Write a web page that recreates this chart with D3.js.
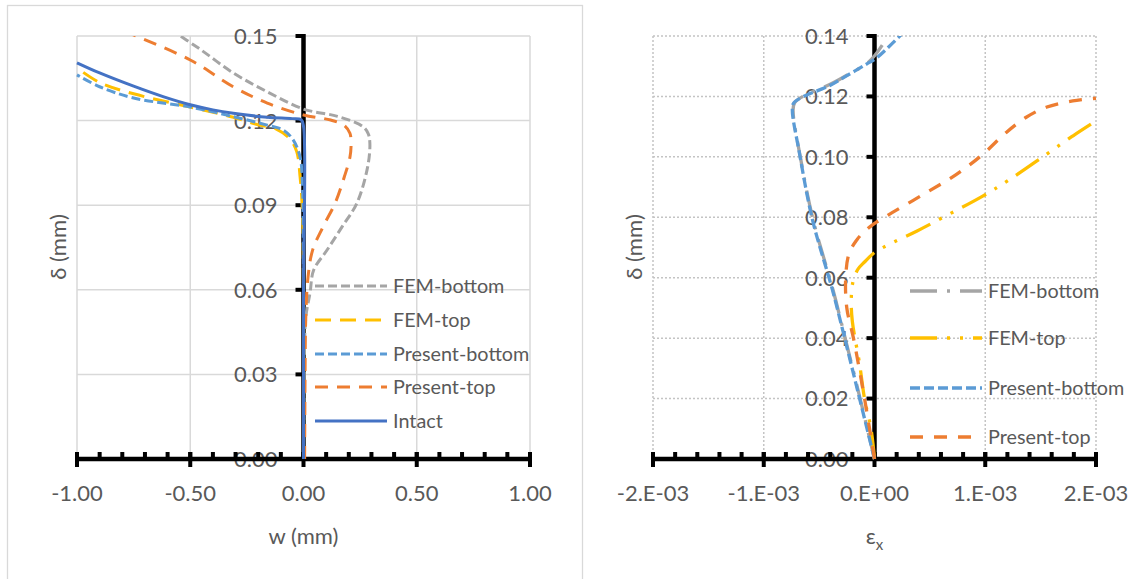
<!DOCTYPE html>
<html>
<head>
<meta charset="utf-8">
<script src="https://cdn.jsdelivr.net/npm/d3@7"></script>
<style>
  body { margin: 0; background: #fff; }
  text { font-family: Lato, "Open Sans", sans-serif; fill: #595959; }
</style>
</head>
<body>
<div id="chart"></div>
<script>
// Left panel: w (mm) vs delta (mm)
var leftXTicks = [-1, -0.5, 0, 0.5, 1];
var leftYTicks = [0, 0.03, 0.06, 0.09, 0.12, 0.15];
var leftNames = ['FEM-bottom', 'FEM-top', 'Present-bottom', 'Present-top', 'Intact'];

var leftFemBottom = [[0, 0], [0.003, 0.03], [0.01, 0.05], [0.029, 0.059], [0.045, 0.067], [0.104, 0.0741],
    [0.17, 0.0823], [0.236, 0.0908], [0.283, 0.1035], [0.293, 0.112], [0.285, 0.1155], [0.26, 0.118],
    [0.15, 0.1215], [0, 0.1241], [-0.16, 0.1302], [-0.31, 0.1369], [-0.46, 0.1455], [-0.6, 0.153]];
var leftFemTop = [[0, 0], [0, 0.06], [-0.005, 0.088], [-0.015, 0.1], [-0.03, 0.109], [-0.06, 0.1135],
    [-0.12, 0.117], [-0.2, 0.1185], [-0.31, 0.1212], [-0.5, 0.1248], [-0.75, 0.1295], [-0.9, 0.1335],
    [-1, 0.1387]];
var leftPresentBottom = [[0, 0], [0, 0.06], [-0.005, 0.098], [-0.015, 0.107], [-0.045, 0.1131],
    [-0.09, 0.1167], [-0.16, 0.1184], [-0.31, 0.1214], [-0.5, 0.1248], [-0.75, 0.128], [-0.9, 0.132],
    [-1, 0.1362]];
var leftPresentTop = [[0.005, 0], [0.007, 0.03], [0.01, 0.05], [0.02, 0.0645], [0.04, 0.074],
    [0.086, 0.0823], [0.14, 0.0908], [0.18, 0.1], [0.205, 0.107], [0.21, 0.112], [0.205, 0.1155],
    [0.18, 0.1183], [0.12, 0.1202], [0, 0.122], [-0.16, 0.1262], [-0.31, 0.132], [-0.5, 0.1415], [-0.8, 0.152]];
var leftIntact = [[0, 0], [0, 0.06], [0, 0.118], [-0.01, 0.1203], [-0.05, 0.1207], [-0.16, 0.1212],
    [-0.31, 0.1226], [-0.4, 0.1238], [-0.5, 0.1256], [-0.62, 0.1285], [-0.75, 0.1322], [-0.9, 0.1369],
    [-1, 0.1405]];

// Right panel: strain eps_x vs delta (mm)
var rightXTicks = [-2e-3, -1e-3, 0, 1e-3, 2e-3];
var rightXLabels = ['-2.E-03', '-1.E-03', '0.E+00', '1.E-03', '2.E-03'];
var rightYTicks = [0, 0.02, 0.04, 0.06, 0.08, 0.10, 0.12, 0.14];
var rightNames = ['FEM-bottom', 'FEM-top', 'Present-bottom', 'Present-top'];

var rightFemBottom = [[0, 0], [-0.13e-3, 0.02], [-0.265e-3, 0.04], [-0.375e-3, 0.056], [-0.555e-3, 0.0793],
    [-0.665e-3, 0.099], [-0.735e-3, 0.1155], [-0.72e-3, 0.118], [-0.62e-3, 0.1205], [-0.4e-3, 0.124],
    [-0.25e-3, 0.127], [-0.05e-3, 0.1315], [0.07e-3, 0.137]];
var rightFemTop = [[0, 0], [-0.03e-3, 0.0096], [-0.09e-3, 0.02], [-0.136e-3, 0.0318], [-0.2e-3, 0.0455],
    [-0.21e-3, 0.0527], [-0.195e-3, 0.0585], [-0.15e-3, 0.0628], [-0.09e-3, 0.0652], [0, 0.0683],
    [0.163e-3, 0.0716], [0.38e-3, 0.0754], [0.615e-3, 0.0799], [0.977e-3, 0.087], [1.22e-3, 0.0925],
    [1.55e-3, 0.1008], [1.79e-3, 0.1069], [2.0e-3, 0.1119]];
var rightPresentBottom = [[0, 0], [-0.136e-3, 0.0202], [-0.27e-3, 0.0401], [-0.38e-3, 0.056],
    [-0.561e-3, 0.0793], [-0.679e-3, 0.1015], [-0.742e-3, 0.1155], [-0.73e-3, 0.1178], [-0.65e-3, 0.1198],
    [-0.41e-3, 0.1235], [-0.253e-3, 0.1268], [-0.072e-3, 0.1307], [0.018e-3, 0.1327], [0.26e-3, 0.1412]];
var rightPresentTop = [[0, 0], [-0.09e-3, 0.02], [-0.19e-3, 0.04], [-0.25e-3, 0.05], [-0.26e-3, 0.06],
    [-0.23e-3, 0.068], [-0.16e-3, 0.0725], [-0.1e-3, 0.075], [-0.015e-3, 0.0776], [0.163e-3, 0.0816],
    [0.47e-3, 0.0882], [0.74e-3, 0.0942], [0.977e-3, 0.1008], [1.19e-3, 0.1081], [1.37e-3, 0.1131],
    [1.55e-3, 0.1164], [1.79e-3, 0.1185], [2.0e-3, 0.1194]];

var width = 1135, height = 579;

// plain hyphen for negatives, like the source
var fmt2 = d3.formatLocale({ decimal: '.', thousands: ',', grouping: [3], currency: ['', ''], minus: '-' }).format('.2f');

var svg = d3.select('#chart').append('svg')
    .attr('width', width)
    .attr('height', height);

// chart frame of the left panel
svg.append('rect')
    .attr('x', 7.5).attr('y', 5.5)
    .attr('width', 575).attr('height', 600)
    .attr('fill', 'none').attr('stroke', '#d9d9d9').attr('stroke-width', 1.3);

var drawPanel = function(cfg) {
    var x = d3.scaleLinear().domain(cfg.xDomain).range(cfg.xRange);
    var y = d3.scaleLinear().domain(cfg.yDomain).range([459, 36]);
    var g = svg.append('g');
    var x0 = x(0), y0 = y(0);

    // gridlines
    g.append('g').selectAll('line.h')
        .data(cfg.yTicks.slice(1))
        .enter().append('line')
        .attr('x1', cfg.xRange[0]).attr('x2', cfg.xRange[1])
        .attr('y1', function(d) { return y(d); }).attr('y2', function(d) { return y(d); })
        .attr('stroke', cfg.gridColor).attr('stroke-width', cfg.gridWidth)
        .attr('stroke-dasharray', cfg.gridDash);
    g.append('g').selectAll('line.v')
        .data(cfg.xTicks)
        .enter().append('line')
        .attr('x1', function(d) { return x(d); }).attr('x2', function(d) { return x(d); })
        .attr('y1', y.range()[1]).attr('y2', y0)
        .attr('stroke', cfg.gridColor).attr('stroke-width', cfg.gridWidth)
        .attr('stroke-dasharray', cfg.gridDash);

    // tick labels (under the axes and series, like the source)
    g.append('g').selectAll('text')
        .data(cfg.yTicks)
        .enter().append('text')
        .attr('x', x0 - 26)
        .attr('y', function(d) { return y(d); })
        .attr('dy', '0.36em')
        .attr('text-anchor', 'end')
        .style('font-size', '22px')
        .text(function(d) { return fmt2(d); });
    g.append('g').selectAll('text')
        .data(cfg.xTicks)
        .enter().append('text')
        .attr('x', function(d) { return x(d); })
        .attr('y', 493)
        .attr('dy', '0.36em')
        .attr('text-anchor', 'middle')
        .style('font-size', '22px')
        .text(function(d, i) { return cfg.xLabels[i]; });

    // axes
    var ax = g.append('g').attr('stroke', '#000');
    ax.append('line')
        .attr('x1', cfg.xRange[0] - 2).attr('x2', cfg.xRange[1] + 2)
        .attr('y1', y0).attr('y2', y0).attr('stroke-width', 4.5);
    ax.append('line')
        .attr('x1', x0).attr('x2', x0)
        .attr('y1', y.range()[1] - 2).attr('y2', y0).attr('stroke-width', 4.5);
    ax.selectAll('line.major')
        .data(cfg.xTicks)
        .enter().append('line')
        .attr('x1', function(d) { return x(d); }).attr('x2', function(d) { return x(d); })
        .attr('y1', y0 - 7).attr('y2', y0 + 8).attr('stroke-width', 4);
    ax.selectAll('line.minor')
        .data(d3.range(cfg.xDomain[0], cfg.xDomain[1] + cfg.minor / 2, cfg.minor))
        .enter().append('line')
        .attr('x1', function(d) { return x(d); }).attr('x2', function(d) { return x(d); })
        .attr('y1', y0 - 7).attr('y2', y0).attr('stroke-width', 4);
    ax.selectAll('line.ytick')
        .data(cfg.yTicks)
        .enter().append('line')
        .attr('x1', x0 - 8).attr('x2', x0)
        .attr('y1', function(d) { return y(d); }).attr('y2', function(d) { return y(d); })
        .attr('stroke-width', 4);

    // axis titles
    g.append('text')
        .attr('transform', 'translate(' + cfg.yTitleX + ',247) rotate(-90)')
        .attr('text-anchor', 'middle')
        .attr('dy', '0.35em')
        .style('font-size', '22px')
        .text('δ (mm)');
    var xt = g.append('text')
        .attr('x', x0)
        .attr('y', 536)
        .attr('dy', '0.35em')
        .attr('text-anchor', 'middle')
        .style('font-size', '22px');
    if (cfg.xTitleSub) {
        xt.append('tspan').text(cfg.xTitle);
        xt.append('tspan').attr('dy', '6').style('font-size', '15px').text(cfg.xTitleSub);
    } else {
        xt.text(cfg.xTitle);
    }

    // series
    var clipId = 'clip-' + cfg.id;
    svg.append('clipPath').attr('id', clipId)
        .append('rect')
        .attr('x', cfg.xRange[0] - 5).attr('y', y.range()[1])
        .attr('width', cfg.xRange[1] - cfg.xRange[0] + 10).attr('height', y0 - y.range()[1] + 5);

    var line = d3.line()
        .x(function(d) { return x(d[0]); })
        .y(function(d) { return y(d[1]); })
        .curve(d3.curveCatmullRom.alpha(0.5));

    var sg = g.append('g').attr('clip-path', 'url(#' + clipId + ')');
    cfg.series.forEach(function(s) {
        sg.append('path')
            .datum(s.data)
            .attr('d', line)
            .attr('fill', 'none')
            .attr('stroke', s.color)
            .attr('stroke-width', cfg.lineWidth)
            .attr('stroke-dasharray', s.dash)
            .attr('stroke-linejoin', 'round');
    });

    // legend
    var lg = g.append('g');
    cfg.series.forEach(function(s, i) {
        var ly = cfg.legendY[i];
        lg.append('line')
            .attr('x1', cfg.legendX).attr('x2', cfg.legendX + 72)
            .attr('y1', ly).attr('y2', ly)
            .attr('stroke', s.color)
            .attr('stroke-width', cfg.lineWidth)
            .attr('stroke-dasharray', s.dash);
        lg.append('text')
            .attr('x', cfg.legendX + 78)
            .attr('y', ly)
            .attr('dy', '0.35em')
            .style('font-size', '19.8px')
            .text(s.name);
    });
};

drawPanel({
    id: 'left',
    xDomain: [-1, 1], xRange: [77, 530],
    yDomain: [0, 0.15],
    xTicks: leftXTicks, yTicks: leftYTicks,
    xLabels: leftXTicks.map(fmt2),
    minor: 0.1,
    gridColor: '#d9d9d9', gridWidth: 1.5, gridDash: null,
    yTitleX: 58, xTitle: 'w (mm)',
    lineWidth: 3,
    legendX: 315, legendY: [286, 320, 354, 387, 421],
    series: [
        { name: leftNames[0], data: leftFemBottom, color: '#a5a5a5', dash: '9,4' },
        { name: leftNames[1], data: leftFemTop, color: '#ffc000', dash: '16,9' },
        { name: leftNames[2], data: leftPresentBottom, color: '#5b9bd5', dash: '9,4' },
        { name: leftNames[3], data: leftPresentTop, color: '#ed7d31', dash: '13,9' },
        { name: leftNames[4], data: leftIntact, color: '#4472c4', dash: null }
    ]
});

drawPanel({
    id: 'right',
    xDomain: [-2e-3, 2e-3], xRange: [653, 1096],
    yDomain: [0, 0.14],
    xTicks: rightXTicks, yTicks: rightYTicks,
    xLabels: rightXLabels,
    minor: 0.2e-3,
    gridColor: '#c4c4c4', gridWidth: 1.5, gridDash: '2,2',
    yTitleX: 634, xTitle: 'ε', xTitleSub: 'x',
    lineWidth: 3.3,
    legendX: 910, legendY: [291, 338, 388, 437],
    series: [
        { name: rightNames[0], data: rightFemBottom, color: '#a5a5a5', dash: '27,10,3,10' },
        { name: rightNames[1], data: rightFemTop, color: '#ffc000', dash: '27,10,3,10,3,10' },
        { name: rightNames[2], data: rightPresentBottom, color: '#5b9bd5', dash: '10,4' },
        { name: rightNames[3], data: rightPresentTop, color: '#ed7d31', dash: '13,11' }
    ]
});
</script>
</body>
</html>
